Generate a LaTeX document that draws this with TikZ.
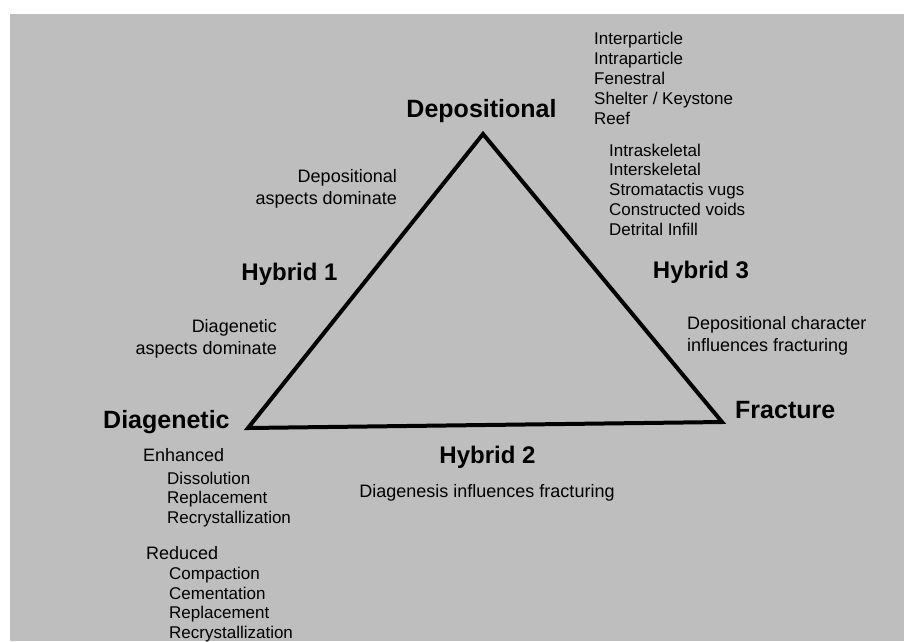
\documentclass[tikz,border=0pt]{standalone}
\usepackage{fontspec}
\setmainfont{Liberation Sans}
\definecolor{scangray}{RGB}{190,190,190}
\begin{document}
\begin{tikzpicture}[x=1pt, y=-1pt,
		corner/.style={font=\fontsize{25}{30}\bfseries\selectfont, inner sep=0pt},
		hybrid/.style={font=\fontsize{24}{29}\bfseries\selectfont, inner sep=0pt},
		note/.style={font=\fontsize{18}{21.5}\selectfont, inner sep=0pt},
		poretype/.style={font=\fontsize{17}{20}\selectfont, inner sep=0pt, align=left}]
		% Page
		\fill[white] (0, 0) rectangle (904, 641);
		\fill[scangray] (10, 14) rectangle (904, 641);
		\useasboundingbox (0, 0) rectangle (904, 641);
		
		% Triangle
		\coordinate (dep) at (483, 134);
		\coordinate (dia) at (248, 428);
		\coordinate (fra) at (722, 422);
		\draw[line width=4pt] (dep) -- (dia) -- (fra) -- cycle;
		
		% Corners
		\node[corner, anchor=base] (deplabel) at (481.5, 117) {Depositional};
		\node[corner, anchor=base west] (dialabel) at (103, 428) {Diagenetic};
		\node[corner, anchor=base west] (fralabel) at (735, 418) {Fracture};
		
		% Hybrids
		\node[hybrid, anchor=base] (hyb1) at (289.5, 280) {Hybrid 1};
		\node[hybrid, anchor=base] (hyb2) at (487.5, 463) {Hybrid 2};
		\node[hybrid, anchor=base] (hyb3) at (701, 278) {Hybrid 3};
		
		% Notes (base = last line)
		\node[note, align=right, anchor=base east] (depdom) at (397, 204) {Depositional\\aspects dominate};
		\node[note, align=right, anchor=base east] (diadom) at (277, 354) {Diagenetic\\aspects dominate};
		\node[note, align=left, anchor=base west] (depfrac) at (687, 351) {Depositional character\\influences fracturing};
		\node[note, anchor=base] (diafrac) at (487, 497) {Diagenesis influences fracturing};
		
		% Depositional pore types
		\node[poretype, anchor=base west] (deplist) at (594, 124) {Interparticle\\Intraparticle\\Fenestral\\Shelter / Keystone\\Reef};
		\node[poretype, anchor=base west, font=\fontsize{17}{19.75}\selectfont] (reeflist) at (609, 235) {Intraskeletal\\Interskeletal\\Stromatactis vugs\\Constructed voids\\Detrital Infill};
		
		% Diagenetic processes
		\node[note, anchor=base west] (enh) at (143, 461.5) {Enhanced};
		\node[poretype, anchor=base west, font=\fontsize{17}{19.5}\selectfont] (enhlist) at (167, 523) {Dissolution\\Replacement\\Recrystallization};
		\node[note, anchor=base west] (red) at (146, 559.5) {Reduced};
		\node[poretype, anchor=base west, font=\fontsize{17}{19.4}\selectfont] (redlist) at (169, 638) {Compaction\\Cementation\\Replacement\\Recrystallization};
	\end{tikzpicture}
\end{document}
